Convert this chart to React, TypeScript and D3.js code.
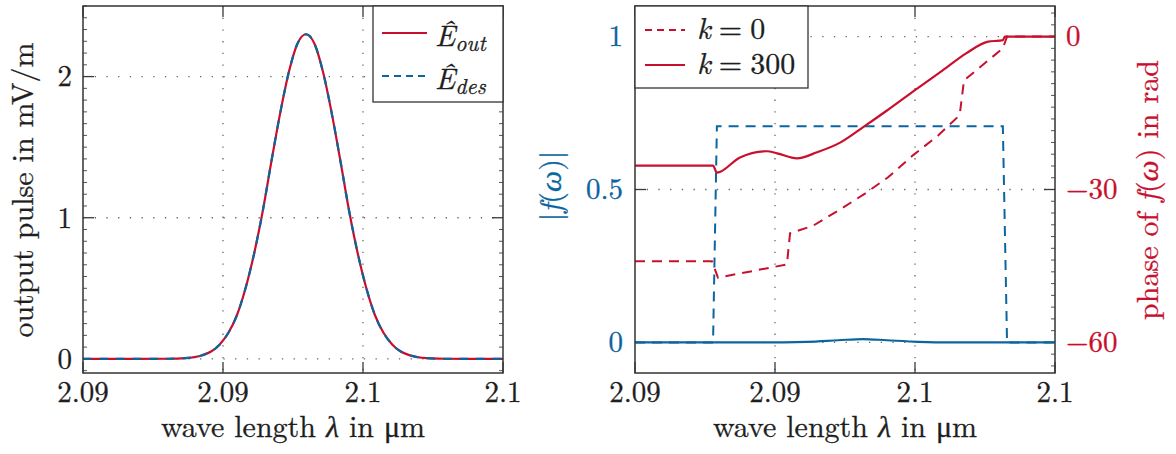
import React from "react";
import * as d3 from "d3";

// ---------- data ----------
const xTicks = [2.088, 2.092, 2.096, 2.1];
const pulseTicks = [0, 1, 2];
const magTicks = [0, 0.5, 1];
const phaseTicks = [0, -30, -60];

const pulseLambda = [2.088, 2.0895, 2.09043, 2.09092, 2.09141, 2.09166, 2.0919, 2.09215, 2.0924, 2.09264, 2.09289, 2.09314, 2.09338, 2.09363, 2.09388, 2.09412, 2.09437, 2.09462, 2.09486, 2.09511, 2.09536, 2.0956, 2.09585, 2.0961, 2.09634, 2.09659, 2.09684, 2.09708, 2.09733, 2.09782, 2.09831, 2.099, 2.1];
const pulseOut = [0, 0, 0.001, 0.005, 0.026, 0.052, 0.101, 0.183, 0.311, 0.497, 0.747, 1.053, 1.395, 1.736, 2.03, 2.229, 2.3, 2.229, 2.03, 1.736, 1.395, 1.053, 0.747, 0.497, 0.311, 0.183, 0.101, 0.052, 0.026, 0.005, 0.001, 0, 0];
const pulseDes = [0, 0, 0.001, 0.005, 0.026, 0.052, 0.101, 0.183, 0.311, 0.497, 0.747, 1.053, 1.395, 1.736, 2.03, 2.229, 2.3, 2.229, 2.03, 1.736, 1.395, 1.053, 0.747, 0.497, 0.311, 0.183, 0.101, 0.052, 0.026, 0.005, 0.001, 0, 0];

const magLambdaK0 = [2.088, 2.09023, 2.09034, 2.09851, 2.09863, 2.1];
const magK0 = [0, 0, 0.707, 0.707, 0, 0];
const magLambdaK300 = [2.088, 2.0915, 2.0929, 2.0938, 2.09451, 2.0952, 2.0961, 2.097, 2.1];
const magK300 = [0, 0, 0.002, 0.007, 0.011, 0.007, 0.002, 0, 0];

const phaseLambdaK0 = [2.088, 2.0902, 2.09037, 2.09234, 2.09243, 2.09309, 2.09391, 2.09457, 2.09523, 2.09594, 2.09666, 2.0972, 2.09728, 2.0974, 2.09851, 2.09863, 2.1];
const phaseK0 = [-44.1, -44.1, -47.3, -44.7, -38.6, -37.1, -33.7, -30.8, -27.6, -23.3, -19.4, -15.9, -15.2, -8.6, -2.3, 0, 0];
const phaseLambdaK300 = [2.088, 2.09023, 2.09034, 2.091, 2.09177, 2.09206, 2.09263, 2.0932, 2.09386, 2.09451, 2.0952, 2.09606, 2.0968, 2.09746, 2.09809, 2.0984, 2.09851, 2.09857, 2.1];
const phaseK300 = [-25.3, -25.3, -26.7, -23.7, -22.5, -22.9, -23.9, -22.7, -20.8, -17.8, -14.5, -10.2, -6.6, -3.3, -1.0, -0.8, -0.7, 0, 0];

// ---------- styling ----------
const RED = "#c8102e";
const BLUE = "#0b659f";
const INK = "#1e1e1e";
const FRAME = "#333";
const FONT = "Latin Modern Roman";
const TOP = 6;
const BOTTOM = 373;

const fmt = d3.format(".3~g");
const fmtSigned = (v: number) => (v < 0 ? "\u2212" + Math.abs(v) : String(v));

const zip = (a: number[], b: number[]) => a.map((v, i) => [v, b[i]] as [number, number]);

const txt = (color: string, size = 30): any => ({
  fontFamily: FONT,
  fontSize: size,
  fill: color,
  stroke: color,
  strokeWidth: 0.3,
});

export default function App() {
  const xL = d3.scaleLinear().domain([2.088, 2.1]).range([83, 503]);
  const yPulse = d3.scaleLinear().domain([-0.1, 2.5]).range([BOTTOM, TOP]);
  const xR = d3.scaleLinear().domain([2.088, 2.1]).range([635, 1055]);
  const yMag = d3.scaleLinear().domain([-0.1, 1.1]).range([BOTTOM, TOP]);
  const yPhase = d3.scaleLinear().domain([-66, 6]).range([BOTTOM, TOP]);

  const smooth = (xs: any, ys: any) =>
    d3.line<[number, number]>().x((d) => xs(d[0])).y((d) => ys(d[1])).curve(d3.curveMonotoneX);
  const straight = (xs: any, ys: any) =>
    d3.line<[number, number]>().x((d) => xs(d[0])).y((d) => ys(d[1])).curve(d3.curveLinear);

  const pulseMinor = d3.range(-1, 31).map((k) => k / 12).filter((v) => v >= -0.1 && v <= 2.5 && Math.abs(v - Math.round(v)) > 1e-6);
  const phaseMinor = d3.range(-3, 32).map((k) => -60 + (k * 30) / 13).filter((v) => v >= -66 && v <= 6).filter((v) => Math.abs(((v + 60) / 30) - Math.round((v + 60) / 30)) > 1e-6);

  const grid = { stroke: "#666", strokeWidth: 1.3, strokeDasharray: "1.3 10.4", fill: "none" };
  const tickStyle = { stroke: "#3a3a3a", strokeWidth: 1.3 };
  const tick = txt(INK, 29);
  const lab = txt(INK, 30);

  const L = { x0: 83, x1: 503 };
  const R = { x0: 635, x1: 1055 };

  return (
    <svg width={1176} height={454} style={{ position: "absolute", left: 0, top: 0, background: "#fff" }} xmlns="http://www.w3.org/2000/svg">
      <defs>
        <clipPath id="clipL"><rect x={L.x0} y={TOP} width={L.x1 - L.x0} height={BOTTOM - TOP} /></clipPath>
        <clipPath id="clipR"><rect x={R.x0} y={TOP} width={R.x1 - R.x0} height={BOTTOM - TOP} /></clipPath>
      </defs>

      {/* ================= LEFT PLOT ================= */}
      <g>
        {pulseTicks.map((t) => (
          <line key={"gy" + t} x1={L.x0} x2={L.x1} y1={yPulse(t)} y2={yPulse(t)} style={grid} />
        ))}
        {xTicks.slice(1, -1).map((t, i) => (
          <line key={"gx" + i} x1={xL(t)} x2={xL(t)} y1={TOP} y2={BOTTOM} style={grid} />
        ))}
        {pulseTicks.map((t) => (
          <g key={"ty" + t}>
            <line x1={L.x0} x2={L.x0 + 11} y1={yPulse(t)} y2={yPulse(t)} style={tickStyle} />
            <line x1={L.x1 - 11} x2={L.x1} y1={yPulse(t)} y2={yPulse(t)} style={tickStyle} />
          </g>
        ))}
        {pulseMinor.map((t, i) => (
          <g key={"my" + i}>
            <line x1={L.x0} x2={L.x0 + 4} y1={yPulse(t)} y2={yPulse(t)} stroke="#555" strokeWidth={1} />
            <line x1={L.x1 - 4} x2={L.x1} y1={yPulse(t)} y2={yPulse(t)} stroke="#555" strokeWidth={1} />
          </g>
        ))}
        {xTicks.map((t, i) => (
          <g key={"tx" + i}>
            <line x1={xL(t)} x2={xL(t)} y1={BOTTOM} y2={BOTTOM - 11} style={tickStyle} />
            <line x1={xL(t)} x2={xL(t)} y1={TOP} y2={TOP + 11} style={tickStyle} />
          </g>
        ))}
        <g clipPath="url(#clipL)">
          <path d={smooth(xL, yPulse)(zip(pulseLambda, pulseOut)) || ""} fill="none" stroke={RED} strokeWidth={2.2} />
          <path d={smooth(xL, yPulse)(zip(pulseLambda, pulseDes)) || ""} fill="none" stroke={BLUE} strokeWidth={2.2} strokeDasharray="8.3 8.3" />
        </g>
        <rect x={L.x0} y={TOP} width={L.x1 - L.x0} height={BOTTOM - TOP} fill="none" stroke={FRAME} strokeWidth={1.5} />
        {pulseTicks.map((t) => (
          <text key={"ly" + t} x={72} y={yPulse(t)} dy="0.34em" textAnchor="end" {...tick}>{fmt(t)}</text>
        ))}
        {xTicks.map((t, i) => (
          <text key={"lx" + i} x={xL(t)} y={402} textAnchor="middle" {...tick}>{fmt(t)}</text>
        ))}
        <text x={293} y={437} textAnchor="middle" {...lab}>
          wave length <tspan fontStyle="italic">λ</tspan> in μm
        </text>
        <text transform="translate(33,190) rotate(-90)" textAnchor="middle" {...lab}>
          output pulse in mV/m
        </text>
        <rect x={373} y={TOP} width={130} height={96} fill="#fff" stroke={FRAME} strokeWidth={1.3} />
        <line x1={382} x2={427} y1={33} y2={33} stroke={RED} strokeWidth={2.2} />
        <line x1={382} x2={427} y1={76} y2={76} stroke={BLUE} strokeWidth={2.2} strokeDasharray="7 5" />
        <text x={435} y={46} {...lab} fontStyle="italic">
          Ê<tspan fontSize={22} dy={5}>out</tspan>
        </text>
        <text x={435} y={89} {...lab} fontStyle="italic">
          Ê<tspan fontSize={22} dy={5}>des</tspan>
        </text>
      </g>

      {/* ================= RIGHT PLOT ================= */}
      <g>
        {magTicks.map((t) => (
          <line key={"rgy" + t} x1={R.x0} x2={R.x1} y1={yMag(t)} y2={yMag(t)} style={grid} />
        ))}
        {xTicks.slice(1, -1).map((t, i) => (
          <line key={"rgx" + i} x1={xR(t)} x2={xR(t)} y1={TOP} y2={BOTTOM} style={grid} />
        ))}
        {magTicks.map((t) => (
          <line key={"rty" + t} x1={R.x0} x2={R.x0 + 11} y1={yMag(t)} y2={yMag(t)} style={tickStyle} />
        ))}
        {phaseTicks.map((t) => (
          <line key={"rtp" + t} x1={R.x1 - 11} x2={R.x1} y1={yPhase(t)} y2={yPhase(t)} style={tickStyle} />
        ))}
        {phaseMinor.map((t, i) => (
          <line key={"rmp" + i} x1={R.x1 - 4} x2={R.x1} y1={yPhase(t)} y2={yPhase(t)} stroke="#555" strokeWidth={1} />
        ))}
        {xTicks.map((t, i) => (
          <g key={"rtx" + i}>
            <line x1={xR(t)} x2={xR(t)} y1={BOTTOM} y2={BOTTOM - 11} style={tickStyle} />
            <line x1={xR(t)} x2={xR(t)} y1={TOP} y2={TOP + 11} style={tickStyle} />
          </g>
        ))}
        <g clipPath="url(#clipR)">
          <path d={straight(xR, yMag)(zip(magLambdaK0, magK0)) || ""} fill="none" stroke={BLUE} strokeWidth={2} strokeDasharray="10 7" />
          <path d={smooth(xR, yMag)(zip(magLambdaK300, magK300)) || ""} fill="none" stroke={BLUE} strokeWidth={2.2} />
          <path d={straight(xR, yPhase)(zip(phaseLambdaK0, phaseK0)) || ""} fill="none" stroke={RED} strokeWidth={2} strokeDasharray="10 7" />
          <path d={smooth(xR, yPhase)(zip(phaseLambdaK300, phaseK300)) || ""} fill="none" stroke={RED} strokeWidth={2.2} />
        </g>
        <rect x={R.x0} y={TOP} width={R.x1 - R.x0} height={BOTTOM - TOP} fill="none" stroke={FRAME} strokeWidth={1.5} />
        {magTicks.map((t) => (
          <text key={"rly" + t} x={623} y={yMag(t)} dy="0.34em" textAnchor="end" {...txt(BLUE, 29)}>{fmt(t)}</text>
        ))}
        {phaseTicks.map((t) => (
          <text key={"rlp" + t} x={1066} y={yPhase(t)} dy="0.34em" textAnchor="start" {...txt(RED, 29)}>{fmtSigned(t)}</text>
        ))}
        {xTicks.map((t, i) => (
          <text key={"rlx" + i} x={xR(t)} y={402} textAnchor="middle" {...tick}>{fmt(t)}</text>
        ))}
        <text x={845} y={437} textAnchor="middle" {...lab}>
          wave length <tspan fontStyle="italic">λ</tspan> in μm
        </text>
        <text transform="translate(561,186) rotate(-90)" textAnchor="middle" {...txt(BLUE, 30)}>
          |<tspan fontStyle="italic">f</tspan>(<tspan fontStyle="italic">ω</tspan>)|
        </text>
        <text transform="translate(1158,190) rotate(-90)" textAnchor="middle" {...txt(RED, 30)}>
          phase of <tspan fontStyle="italic">f</tspan>(<tspan fontStyle="italic">ω</tspan>) in rad
        </text>
        <rect x={R.x0} y={TOP} width={173} height={82} fill="#fff" stroke={FRAME} strokeWidth={1.3} />
        <line x1={645} x2={685} y1={30} y2={30} stroke={RED} strokeWidth={2.2} strokeDasharray="7 5" />
        <line x1={645} x2={685} y1={65} y2={65} stroke={RED} strokeWidth={2.2} />
        <text x={697} y={39} {...lab}>
          <tspan fontStyle="italic">k</tspan><tspan dx={8}>=</tspan><tspan dx={8}>0</tspan>
        </text>
        <text x={697} y={74} {...lab}>
          <tspan fontStyle="italic">k</tspan><tspan dx={8}>=</tspan><tspan dx={8}>300</tspan>
        </text>
      </g>
    </svg>
  );
}
